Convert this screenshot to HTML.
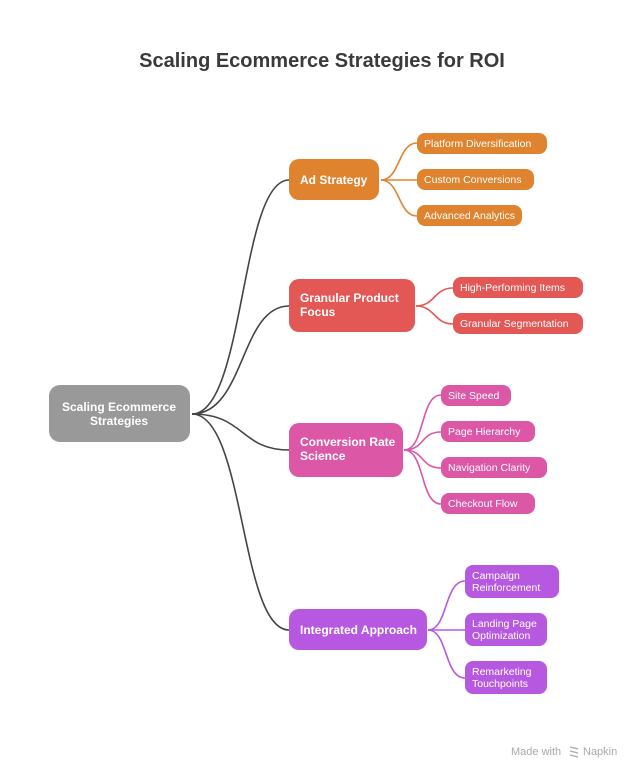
<!DOCTYPE html>
<html><head><meta charset="utf-8"><style>
html,body{margin:0;padding:0;background:#fff;}
svg{display:block;font-family:"Liberation Sans",sans-serif;}
.t{fill:#fff;font-size:10.5px;}
.b{fill:#fff;font-size:12px;font-weight:bold;}
</style></head><body>
<svg width="644" height="780" viewBox="0 0 644 780" xmlns="http://www.w3.org/2000/svg">
<rect width="644" height="780" fill="#fff"/>
<text x="322" y="67" text-anchor="middle" font-size="20" font-weight="bold" fill="#3a3a3a">Scaling Ecommerce Strategies for ROI</text>

<g fill="none" stroke="#444" stroke-width="1.6">
<path d="M192 414 C245 414 240 180 289 180"/>
<path d="M192 414 C245 414 240 306 289 306"/>
<path d="M192 414 C245 414 240 450 289 450"/>
<path d="M192 414 C245 414 240 630 289 630"/>
</g>
<g fill="none" stroke="#e0832f" stroke-width="1.6">
<path d="M381 180 C400 180 398 143 417 143"/>
<path d="M381 180 L417 180"/>
<path d="M381 180 C400 180 398 216 417 216"/>
</g>
<g fill="none" stroke="#e35755" stroke-width="1.6">
<path d="M416 306 C435 306 434 288 453 288"/>
<path d="M416 306 C435 306 434 324 453 324"/>
</g>
<g fill="none" stroke="#dc57a6" stroke-width="1.6">
<path d="M404 450 C425 450 420 395 441 395"/>
<path d="M404 450 C425 450 420 432 441 432"/>
<path d="M404 450 C425 450 420 468 441 468"/>
<path d="M404 450 C425 450 420 504 441 504"/>
</g>
<g fill="none" stroke="#b659e0" stroke-width="1.6">
<path d="M428 630 C448 630 444 581 465 581"/>
<path d="M428 630 L465 630"/>
<path d="M428 630 C448 630 444 678 465 678"/>
</g>

<rect x="49" y="385" width="141" height="57" rx="11" fill="#999"/>
<text class="b" x="119" y="411" text-anchor="middle" font-size="11.5">Scaling Ecommerce</text>
<text class="b" x="119" y="425" text-anchor="middle" font-size="11.5">Strategies</text>

<rect x="289" y="159" width="90" height="41" rx="10" fill="#e0832f"/>
<text class="b" x="300" y="184">Ad Strategy</text>
<rect x="417" y="133" width="130" height="21" rx="8" fill="#e0832f"/>
<text class="t" x="424" y="147">Platform Diversification</text>
<rect x="417" y="169" width="117" height="21" rx="8" fill="#e0832f"/>
<text class="t" x="424" y="183">Custom Conversions</text>
<rect x="417" y="205" width="105" height="21" rx="8" fill="#e0832f"/>
<text class="t" x="424" y="219">Advanced Analytics</text>

<rect x="289" y="279" width="126" height="53" rx="10" fill="#e35755"/>
<text class="b" x="300" y="302">Granular Product</text>
<text class="b" x="300" y="316">Focus</text>
<rect x="453" y="277" width="130" height="21" rx="8" fill="#e35755"/>
<text class="t" x="460" y="291">High-Performing Items</text>
<rect x="453" y="313" width="130" height="21" rx="8" fill="#e35755"/>
<text class="t" x="460" y="327">Granular Segmentation</text>

<rect x="289" y="423" width="114" height="54" rx="10" fill="#dc57a6"/>
<text class="b" x="300" y="446">Conversion Rate</text>
<text class="b" x="300" y="460">Science</text>
<rect x="441" y="385" width="70" height="21" rx="8" fill="#dc57a6"/>
<text class="t" x="448" y="399">Site Speed</text>
<rect x="441" y="421" width="94" height="21" rx="8" fill="#dc57a6"/>
<text class="t" x="448" y="435">Page Hierarchy</text>
<rect x="441" y="457" width="106" height="21" rx="8" fill="#dc57a6"/>
<text class="t" x="448" y="471">Navigation Clarity</text>
<rect x="441" y="493" width="94" height="21" rx="8" fill="#dc57a6"/>
<text class="t" x="448" y="507">Checkout Flow</text>

<rect x="289" y="609" width="138" height="41" rx="10" fill="#b659e0"/>
<text class="b" x="300" y="634">Integrated Approach</text>
<rect x="465" y="565" width="94" height="33" rx="8" fill="#b659e0"/>
<text class="t" x="472" y="579">Campaign</text>
<text class="t" x="472" y="591">Reinforcement</text>
<rect x="465" y="613" width="82" height="33" rx="8" fill="#b659e0"/>
<text class="t" x="472" y="627">Landing Page</text>
<text class="t" x="472" y="639">Optimization</text>
<rect x="465" y="661" width="82" height="33" rx="8" fill="#b659e0"/>
<text class="t" x="472" y="675">Remarketing</text>
<text class="t" x="472" y="687">Touchpoints</text>

<text x="511" y="755" font-size="11" fill="#aaa">Made with</text>
<path d="M570 747 l8 2 M570 751 l8 2 M570 755 l8 2" stroke="#aaa" stroke-width="1.4"/>
<text x="583" y="755" font-size="11" fill="#aaa">Napkin</text>
</svg>
</body></html>
